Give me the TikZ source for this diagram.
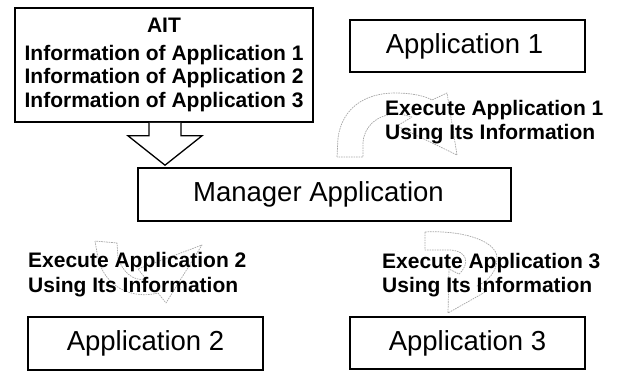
\documentclass[tikz,border=0pt]{standalone}
\usepackage{fontspec}
\setmainfont{Liberation Sans}
\usetikzlibrary{calc}
\begin{document}
\begin{tikzpicture}[x=1pt,y=-1pt,
  boxnode/.style={draw=black, line width=1.6pt, rectangle, inner sep=0pt, minimum width=235pt, minimum height=52pt, font=\fontsize{27.5}{31}\selectfont},
  lbl/.style={inner sep=0pt, anchor=west, align=left, font=\bfseries\fontsize{21}{24.5}\selectfont},
  carrow/.style={draw=gray!70, line width=0.7pt, dash pattern=on 1.6pt off 0.9pt, line join=round},
  blockarrow/.style={draw=black, line width=1.3pt, line join=miter, fill=white}]
\useasboundingbox (0,0) rectangle (617,371);

% boxes
\node[draw=black, line width=1.6pt, rectangle, inner sep=0pt, minimum width=298pt, minimum height=114pt] (ait) at (164,65) {};
\node[inner sep=0pt, align=center, font=\bfseries\fontsize{21}{23.5}\selectfont] (aitinfo) at (164,64.5)
  {AIT\\[4.5pt]Information of Application 1\\Information of Application 2\\Information of Application 3};
\node[boxnode, minimum width=373pt, minimum height=53pt] (mgr) at (324.5,194.5) {\hspace*{-12pt}Manager Application};
\node[boxnode] (app1) at (467.5,46) {\hspace*{-6pt}Application 1};
\node[boxnode, minimum height=53pt] (app2) at (145.5,343.5) {Application 2};
\node[boxnode] (app3) at (467.5,343) {Application 3};

% hollow block arrow from AIT to manager
\draw[blockarrow] ($(ait.south)+(-15,0)$) -- ($(ait.south)+(-15,13)$) -- ($(ait.south)+(-36,13)$)
  -- ($(mgr.north -| ait.south)+(1,-2)$) -- ($(ait.south)+(38,13)$) -- ($(ait.south)+(17,13)$) -- ($(ait.south)+(17,0)$);

% curved arrows (faint)
\draw[carrow] (337,157) -- (338,138) .. controls (342,108) and (365,93) .. (395,93)
  .. controls (412,93) and (425,96) .. (432,100) -- (447,93) -- (457,155) -- (397,126) -- (412,117)
  .. controls (385,108) and (365,122) .. (363,142) -- (363,157) -- cycle;
\draw[carrow] (95,241) -- (98,258) .. controls (104,285) and (130,300) .. (158,293)
  -- (166,303) -- (202,245) -- (138,269) -- (146,279)
  .. controls (132,282) and (122,270) .. (118,258) -- (117,243) -- cycle;
\draw[carrow] (425,232) .. controls (460,230) and (497,240) .. (497,258)
  .. controls (497,272) and (488,281) .. (477,286) -- (487,291) -- (448,313) -- (449,269) -- (459,274)
  .. controls (470,264) and (468,251) .. (450,250) -- (425,250) -- cycle;

% labels
\node[lbl] (ex1) at (385,122) {Execute Application 1\\Using Its Information};
\node[lbl] (ex2) at (28,274.5) {Execute Application 2\\Using Its Information};
\node[lbl] (ex3) at (382,275) {Execute Application 3\\Using Its Information};
\end{tikzpicture}
\end{document}
